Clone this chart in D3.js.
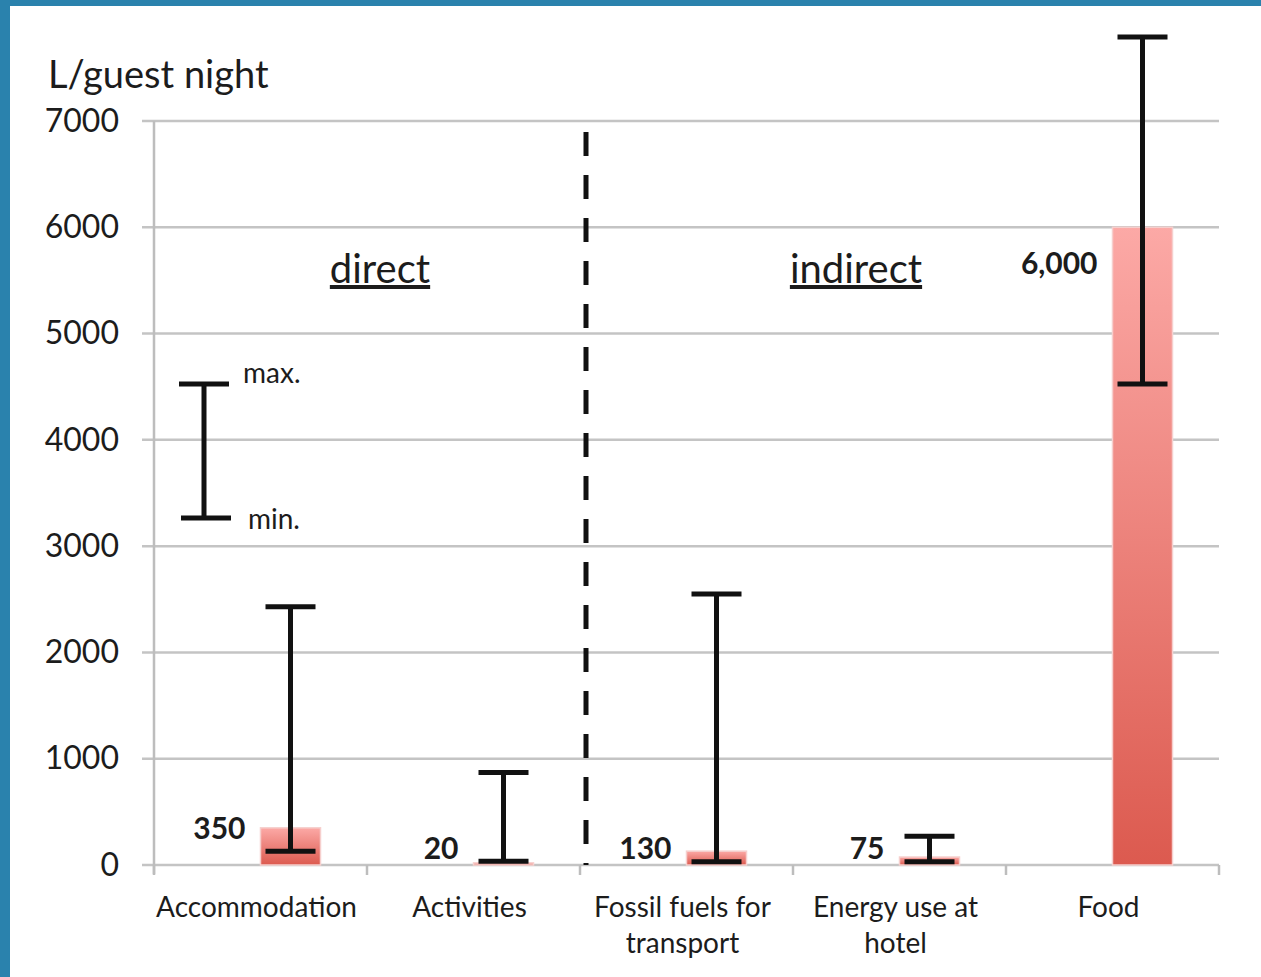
<!DOCTYPE html>
<html>
<head>
<meta charset="utf-8">
<script src="https://cdn.jsdelivr.net/npm/d3@7"></script>
<style>
  html, body { margin: 0; padding: 0; background: #fff; }
  svg text { font-family: Lato, "Open Sans", sans-serif; fill: #1c1c1c; }
</style>
</head>
<body>
<div id="chart"></div>
<script>
// chart data
const categories = [
    ["Accommodation"],
    ["Activities"],
    ["Fossil fuels for", "transport"],
    ["Energy use at", "hotel"],
    ["Food"]
];
const values = [350, 20, 130, 75, 6000];
const valueLabels = ["350", "20", "130", "75", "6,000"];
const errMin = [130, 35, 30, 30, 4525];
const errMax = [2430, 870, 2550, 270, 7790];
const yTicks = [0, 1000, 2000, 3000, 4000, 5000, 6000, 7000];
const legendRange = [3265, 4525];
const groups = ["direct", "indirect"];

const W = 1261, H = 977;

let svg = d3.select("#chart")
    .append("svg")
    .attr("width", W)
    .attr("height", H);

// frame (blue edge at top and left)
svg.append("rect")
    .attr("width", W).attr("height", H)
    .attr("fill", "#2a82ad");
svg.append("rect")
    .attr("x", 10).attr("y", 6)
    .attr("width", W - 10).attr("height", H - 6)
    .attr("fill", "#fff");

// scales
let keys = categories.map(d => d.join(" "));
let x = d3.scaleBand()
    .domain(keys)
    .range([154, 1219])
    .padding(0);
let y = d3.scaleLinear()
    .domain([0, 7000])
    .range([865, 121]);
let bw = x.bandwidth();
let center = i => x(keys[i]) + bw / 2;

// bar gradient
let defs = svg.append("defs");
let grad = defs.append("linearGradient")
    .attr("id", "barGrad")
    .attr("x1", 0).attr("y1", 0).attr("x2", 0).attr("y2", 1);
grad.append("stop").attr("offset", "0%").attr("stop-color", "#fca9a6");
grad.append("stop").attr("offset", "100%").attr("stop-color", "#dc5a4f");

// gridlines
svg.append("g")
    .selectAll("line")
    .data(yTicks)
    .enter()
    .append("line")
    .attr("x1", 142)
    .attr("x2", 1219)
    .attr("y1", d => y(d))
    .attr("y2", d => y(d))
    .attr("stroke", "#c4c4c4")
    .attr("stroke-width", 2.5);

// y axis
let yAxis = svg.append("g")
    .attr("transform", "translate(154,0)")
    .call(d3.axisLeft(y).tickValues(yTicks).tickFormat(d3.format("d")).tickSize(0).tickPadding(35));
yAxis.select(".domain").remove();
yAxis.selectAll("text")
    .style("font-size", "32px")
    .style("font-family", "Lato, sans-serif")
    .attr("fill", "#1c1c1c")
    .attr("dy", "0.32em");
svg.append("line")
    .attr("x1", 154).attr("x2", 154)
    .attr("y1", y(7000)).attr("y2", 874)
    .attr("stroke", "#bdbdbd")
    .attr("stroke-width", 2.5);

// x axis ticks
let xEdges = keys.map(k => x(k)).concat([x.range()[1]]);
svg.append("g")
    .selectAll("line")
    .data(xEdges)
    .enter()
    .append("line")
    .attr("x1", d => d).attr("x2", d => d)
    .attr("y1", y(0)).attr("y2", 875)
    .attr("stroke", "#bdbdbd")
    .attr("stroke-width", 2.5);

// bars
svg.append("g")
    .selectAll("rect")
    .data(values)
    .enter()
    .append("rect")
    .attr("x", (d, i) => center(i))
    .attr("y", d => y(d))
    .attr("width", 60)
    .attr("height", d => y(0) - y(d))
    .attr("fill", "url(#barGrad)")
    .attr("stroke", "#f6cfcd")
    .attr("stroke-width", 1.5);

// error bars
let err = svg.append("g")
    .attr("stroke", "#111")
    .attr("stroke-width", 5);
values.forEach(function (v, i) {
    let cx = center(i) + 30;
    err.append("line")
        .attr("x1", cx).attr("x2", cx)
        .attr("y1", y(errMax[i])).attr("y2", y(errMin[i]));
    err.append("line")
        .attr("x1", cx - 25).attr("x2", cx + 25)
        .attr("y1", y(errMax[i])).attr("y2", y(errMax[i]));
    err.append("line")
        .attr("x1", cx - 25).attr("x2", cx + 25)
        .attr("y1", y(errMin[i])).attr("y2", y(errMin[i]));
});

// value labels
svg.append("g")
    .selectAll("text")
    .data(values)
    .enter()
    .append("text")
    .attr("x", (d, i) => center(i) - 15)
    .attr("y", d => d > 3000 ? y(d) + 36 : Math.min(y(d), y(0) - 17))
    .attr("dy", "0.36em")
    .attr("text-anchor", "end")
    .style("font-size", "30px")
    .style("font-weight", "bold")
    .text((d, i) => valueLabels[i]);

// category labels
categories.forEach(function (lines, i) {
    let cx = center(i) - 4;
    let t = svg.append("text")
        .attr("x", cx)
        .attr("y", 917)
        .attr("text-anchor", "middle")
        .style("font-size", "28px");
    lines.forEach(function (ln, j) {
        t.append("tspan")
            .attr("x", cx)
            .attr("dy", j === 0 ? 0 : 36)
            .text(ln);
    });
});

// y axis title
svg.append("text")
    .attr("x", 48)
    .attr("y", 88)
    .style("font-size", "38px")
    .text("L/guest night");

// divider between direct and indirect
svg.append("line")
    .attr("x1", x(keys[2]) + 6).attr("x2", x(keys[2]) + 6)
    .attr("y1", 132).attr("y2", y(0))
    .attr("stroke", "#111")
    .attr("stroke-width", 5)
    .attr("stroke-dasharray", "24,19");

// group labels
let groupX = [x(keys[1]) + 13, x(keys[3]) + 63];
groups.forEach(function (g, i) {
    svg.append("text")
        .attr("x", groupX[i])
        .attr("y", 283)
        .attr("text-anchor", "middle")
        .style("font-size", "40px")
        .style("text-decoration", "underline")
        .text(g);
});

// min/max legend
let lg = svg.append("g")
    .attr("stroke", "#111")
    .attr("stroke-width", 5);
lg.append("line")
    .attr("x1", 204).attr("x2", 204)
    .attr("y1", y(legendRange[1])).attr("y2", y(legendRange[0]));
lg.append("line")
    .attr("x1", 179).attr("x2", 229)
    .attr("y1", y(legendRange[1])).attr("y2", y(legendRange[1]));
lg.append("line")
    .attr("x1", 181).attr("x2", 231)
    .attr("y1", y(legendRange[0])).attr("y2", y(legendRange[0]));

svg.append("text")
    .attr("x", 243)
    .attr("y", y(legendRange[1]) - 1)
    .style("font-size", "28px")
    .text("max.");
svg.append("text")
    .attr("x", 248)
    .attr("y", y(legendRange[0]) + 11)
    .style("font-size", "28px")
    .text("min.");
</script>
</body>
</html>
